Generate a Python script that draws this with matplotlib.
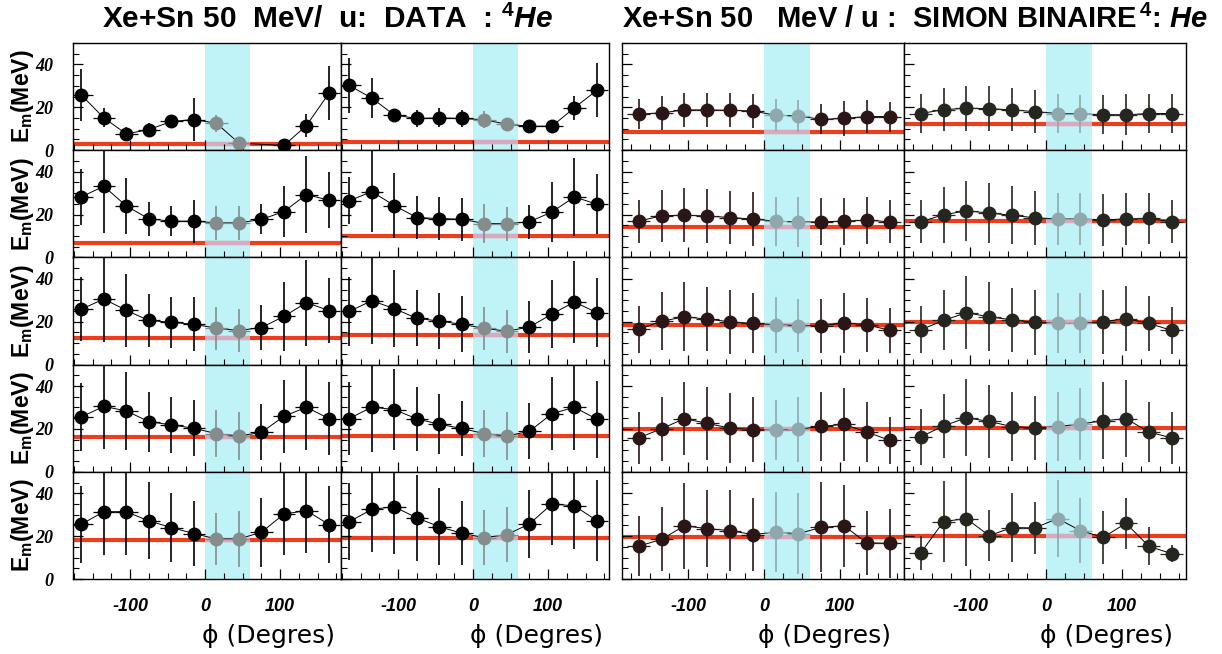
import numpy as np
import matplotlib
matplotlib.use("Agg")
import matplotlib.pyplot as plt
from matplotlib.ticker import MultipleLocator

plt.rcParams['font.family'] = ['Liberation Sans', 'DejaVu Sans']
plt.rcParams['mathtext.fontset'] = 'custom'
plt.rcParams['mathtext.rm'] = 'Liberation Sans:bold'
plt.rcParams['mathtext.bf'] = 'Liberation Sans:bold'
plt.rcParams['mathtext.it'] = 'Liberation Sans:italic:bold'

# azimuthal bins (deg)
phi = np.array([-165, -135, -105, -75, -45, -15, 15, 45, 75, 105, 135, 165])
nan = np.nan

# DATA, left column, rows top -> bottom
data_c1_em = [
    [25.8, 15.1, 7.6, 9.6, 13.4, 14.3, 12.6, 3.3, nan, 2.2, 11.5, 26.6],
    [28.2, 33.2, 24.0, 18.0, 16.9, 16.9, 16.1, 16.1, 17.7, 21.4, 29.3, 26.7],
    [25.8, 30.6, 25.3, 20.6, 19.7, 18.8, 17.0, 15.9, 17.3, 22.5, 28.9, 25.2],
    [25.6, 30.5, 28.4, 23.4, 21.9, 20.3, 17.8, 16.7, 18.4, 25.9, 30.1, 24.8],
    [25.5, 31.4, 31.4, 27.1, 24.0, 21.2, 18.7, 18.7, 21.8, 30.3, 31.9, 25.4],
]
data_c1_err = [
    [12, 4.5, 3, 3, 2.5, 10, 4, 2, nan, 2, 5.5, 12.5],
    [13, 22, 13, 8, 7, 10, 8, 8, 7, 12, 18, 13],
    [15, 20, 17, 12.5, 12, 12.5, 10, 10, 10.5, 16, 20, 15],
    [16, 20, 18, 14, 13, 13, 11, 11, 13, 17, 20, 17],
    [18, 20, 20, 18, 16, 15, 12, 13, 16, 19, 20, 18],
]
data_c1_ref = [2.8, 6.8, 12.5, 16.1, 18.2]

# DATA, right column
data_c2_em = [
    [30.2, 24.3, 16.4, 14.8, 15.1, 14.8, 14.2, 12.1, 11.2, 11.2, 19.8, 28.0],
    [26.4, 30.7, 24.2, 18.6, 18.1, 17.8, 15.8, 15.7, 16.6, 21.2, 28.2, 24.8],
    [24.8, 29.8, 26.1, 21.6, 20.3, 18.8, 16.9, 15.6, 17.5, 23.6, 29.2, 24.2],
    [24.8, 30.2, 29.0, 24.7, 22.2, 20.2, 17.8, 16.7, 18.9, 27.1, 30.1, 24.5],
    [26.7, 32.5, 33.7, 28.5, 24.4, 21.3, 19.3, 20.7, 25.7, 35.0, 34.1, 27.2],
]
data_c2_err = [
    [13, 9.5, 3, 4, 4.5, 4, 4, 2.5, 2.5, 3, 5.5, 12.5],
    [11, 19, 15, 10, 10, 10, 9, 8, 8, 14, 18, 14],
    [16, 20, 18, 13, 13, 13, 10, 10, 12, 16, 19, 16],
    [17, 21, 19, 15, 14, 13, 11, 11, 13, 17, 20, 18],
    [18, 20, 22, 20, 18, 15, 13, 13, 16, 19, 20, 19],
]
data_c2_ref = [3.9, 10.1, 13.9, 16.6, 19.1]

# SIMON binaire, left column
simon_c1_em = [
    [16.8, 17.4, 18.8, 18.8, 18.6, 18.3, 16.3, 16.0, 14.4, 14.8, 15.7, 15.7],
    [16.9, 19.4, 19.7, 19.3, 18.6, 17.9, 16.9, 16.5, 16.6, 16.9, 17.4, 16.6],
    [16.5, 20.2, 22.3, 21.2, 20.0, 19.2, 18.6, 18.2, 18.0, 19.5, 18.6, 16.0],
    [15.8, 20.1, 24.8, 22.6, 20.4, 19.7, 19.3, 19.8, 21.2, 22.1, 18.6, 14.7],
    [15.3, 18.5, 24.8, 23.5, 22.6, 20.7, 21.9, 21.1, 24.1, 24.8, 16.9, 16.6],
]
simon_c1_err = [
    [7, 8, 8, 8, 8, 8, 7.5, 7.5, 7, 8, 7.5, 7],
    [10, 12, 12.5, 12.5, 12.5, 12.5, 11.5, 11.5, 11, 11, 11, 10],
    [11, 13.5, 16, 15, 15, 14, 13, 12.5, 12.5, 14, 12.5, 10.5],
    [12, 15, 17, 17, 16.5, 15, 14, 15, 16, 17, 14, 11],
    [14, 15, 20, 18, 19, 17, 18.5, 19, 21, 19, 15, 16],
]
simon_c1_ref = [8.5, 14.3, 18.5, 19.8, 19.4]

# SIMON binaire, right column
simon_c2_em = [
    [17.1, 18.9, 19.6, 19.4, 18.8, 18.0, 17.1, 16.9, 16.6, 16.5, 17.1, 17.1],
    [16.6, 19.9, 21.7, 20.7, 19.6, 18.5, 17.9, 17.9, 17.5, 17.9, 18.2, 16.6],
    [16.2, 20.6, 24.2, 22.3, 20.9, 19.7, 19.2, 19.2, 20.0, 21.5, 19.2, 16.0],
    [16.3, 21.4, 25.2, 23.5, 21.1, 20.4, 21.1, 22.3, 23.8, 24.8, 18.6, 15.8],
    [12.1, 26.8, 28.2, 20.2, 24.0, 23.8, 28.2, 22.6, 19.4, 26.0, 15.3, 11.8],
]
simon_c2_err = [
    [9, 10, 10.5, 10.5, 10, 10, 9, 9, 9, 9.5, 9, 9],
    [10, 13, 14, 14, 13.5, 12.5, 12, 12, 12, 12, 12, 10],
    [11, 14, 17, 16, 15, 15, 14, 14, 15, 15, 13, 11],
    [13, 15, 18, 17, 16, 15, 16, 17, 18, 18, 14, 12],
    [8, 19, 22, 12, 16, 12, 18, 15, 12.5, 12, 9, 4],
]
simon_c2_ref = [12.1, 17.2, 19.7, 20.6, 20.2]

W, H = 1222, 654
fig = plt.figure(figsize=(W / 100, H / 100), dpi=100)

band = '#bff3f8'
red = '#ec3d1c'
pink = '#d9a9c0'


def draw(ax, em, err, ref, dark, light, xlim):
    em = np.array(em, dtype=float)
    err = np.array(err, dtype=float)
    ax.axvspan(0, 60, color=band, lw=0, zorder=0)
    ax.axhline(ref, color=red, lw=3.0, zorder=1)
    ax.hlines(ref, 0, 60, color=pink, lw=3.0, zorder=1.5)
    ok = ~np.isnan(em)
    ax.plot(phi[ok], em[ok], color='k', lw=0.7, zorder=2)
    inb = (phi > 0) & (phi < 60)
    for m, c in [(ok & ~inb, dark), (ok & inb, light)]:
        ax.hlines(em[m], phi[m] - 15, phi[m] + 15, color=c, lw=0.9, zorder=2)
        ax.vlines(phi[m], em[m] - err[m], em[m] + err[m], color=c, lw=1.2, zorder=2)
        ax.plot(phi[m], em[m], 'o', color=c, ms=9, zorder=3)
    ax.set_xlim(*xlim)
    ax.set_ylim(0, 50)
    ax.xaxis.set_major_locator(MultipleLocator(100))
    ax.xaxis.set_minor_locator(MultipleLocator(25))
    ax.yaxis.set_major_locator(MultipleLocator(20))
    ax.yaxis.set_minor_locator(MultipleLocator(5))
    ax.tick_params(which='both', direction='in', top=False, right=False,
                   labelbottom=False, labelleft=False)
    ax.tick_params(which='major', length=7, width=0.9)
    ax.tick_params(which='minor', length=4, width=0.8)
    for s in ax.spines.values():
        s.set_linewidth(1.0)


top, bot = 43, 579
rh = (bot - top) / 5
columns = [
    (73, 341, data_c1_em, data_c1_err, data_c1_ref, 'black', '#858c8c', (-176, 181)),
    (341, 609, data_c2_em, data_c2_err, data_c2_ref, 'black', '#858c8c', (-176, 181)),
    (622, 904, simon_c1_em, simon_c1_err, simon_c1_ref, '#2a1616', '#8fa8ad', (-187, 184)),
    (904, 1186, simon_c2_em, simon_c2_err, simon_c2_ref, '#262620', '#8fa8ad', (-187, 184)),
]

tick_font = dict(family='Liberation Sans', weight='bold', style='italic', size=13)
ytick_font = dict(family='Liberation Serif', weight='bold', style='italic', size=13)

for ci, (x0, x1, em, err, ref, dark, light, xl) in enumerate(columns):
    for r in range(5):
        y1 = top + rh * (r + 1)
        ax = fig.add_axes([x0 / W, 1 - y1 / H, (x1 - x0) / W, rh / H])
        draw(ax, em[r], err[r], ref[r], dark, light, xl)
        if ci == 0:
            ax.tick_params(labelleft=True, pad=14)
            ax.set_yticks([0, 20, 40])
            ax.set_yticklabels(['0', '20', '40'], fontdict=ytick_font)
        if r == 4:
            ax.tick_params(labelbottom=True, pad=14)
            ax.set_xticks([-100, 0, 100])
            ax.set_xticklabels(['-100', '0', '100'], fontdict=tick_font)
            fig.text((x0 + x1) / 2 / W + 0.05, 1 - 636 / H, '\u03d5 (Degres)',
                     family='DejaVu Sans', size=18, ha='center', va='center')

for r in range(5):
    yc = top + rh * (r + 0.5)
    fig.text(23 / W, 1 - yc / H, r'$\mathbf{E_m}$(MeV)', rotation=90,
             weight='bold', size=16.5, ha='center', va='center')

fig.text(328 / W, 1 - 19 / H, r'Xe+Sn 50  MeV/  u:  DATA  : $^{4}\mathit{He}$',
         weight='bold', size=21.5, ha='center', va='center')
fig.text(915 / W, 1 - 19 / H, r'Xe+Sn 50   MeV / u :  SIMON BINAIRE$^{\,4}$: $\mathit{He}$',
         weight='bold', size=21, ha='center', va='center')

fig.savefig('out.png', dpi=100)
